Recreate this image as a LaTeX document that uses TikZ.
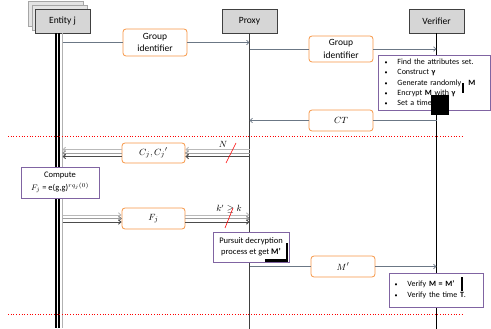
\documentclass[tikz,border=0pt]{standalone}
\usepackage{fontspec}
\setmainfont{Carlito}
\usetikzlibrary{arrows.meta}
\definecolor{msgline}{RGB}{107,119,133}
\definecolor{lblorange}{RGB}{247,150,70}
\definecolor{notepurple}{RGB}{128,100,162}
\definecolor{boxgray}{RGB}{64,64,64}
\definecolor{actorfill}{RGB}{214,214,214}
\definecolor{backfill}{RGB}{228,228,228}
\newcommand{\bul}{{\fontsize{6}{6}\selectfont\textbullet}}
\tikzset{
  actor/.style={draw=boxgray, line width=0.9pt, minimum width=55pt, minimum height=24pt,
    fill=actorfill, font=\fontsize{9.5}{11}\selectfont},
  actorback/.style={draw=gray!70, line width=0.7pt, minimum width=55pt, minimum height=25pt,
    fill=backfill},
  shadowbox/.style={fill=black!35, minimum width=55pt, minimum height=24pt},
  msglabel/.style={draw=lblorange, line width=0.8pt, rounded corners=3pt, fill=white,
    minimum width=64pt, minimum height=21pt, align=center, inner sep=1pt,
    font=\fontsize{9.5}{12.5}\selectfont},
  notebox/.style={draw=notepurple, line width=0.8pt, fill=white, inner sep=2pt,
    font=\fontsize{8}{10.3}\selectfont},
  msg/.style={draw=msgline, line width=0.7pt, -{Straight Barb[length=2.5pt,width=4.5pt]}},
  tripline/.style={-{Straight Barb[length=2.5pt,width=4.5pt]},
    postaction={draw=gray!55, line width=0.9pt, transform canvas={yshift=3.5pt}},
    postaction={draw=gray!75, line width=0.9pt},
    postaction={draw=black!70, line width=0.9pt, transform canvas={yshift=-3.5pt}}},
  sep/.style={red, dotted, line width=0.7pt},
  cut/.style={red, line width=0.6pt},
}
\begin{document}
\begin{tikzpicture}[x=1pt,y=-1pt]
\useasboundingbox (0,0) rectangle (491,329);
% actors
\node[actorback] (entityb) at (55.5,13.5) {};
\node[actorback] (entitym) at (59.5,17.5) {};
\node[shadowbox] (proxyshade) at (250.5,22.5) {};
\node[shadowbox] (verifiershade) at (437.5,22.5) {};
\node[actor] (entity) at (62.5,21) {Entity j};
\node[actor] (proxy) at (249.5,21) {Proxy};
\node[actor] (verifier) at (436.5,21) {Verifier};
\coordinate (entend) at (62.5,328);
\coordinate (prxend) at (249.5,329);
\coordinate (verend) at (436.5,329);
% lifelines
\draw[line width=1.5pt] ([xshift=-6.5pt]entity.south) -- ([xshift=-6.5pt]entend);
\draw[line width=1.5pt] ([xshift=-3.5pt]entity.south) -- ([xshift=-3.5pt]entend);
\draw[gray!60, line width=0.7pt] ([xshift=-0.5pt]entity.south) -- ([xshift=-0.5pt]entend);
\draw[black!75, line width=0.8pt] (proxy) -- (prxend);
\draw[line width=1.3pt] (verifier) -- (verend);
% separators
\draw[sep] (8,136) -- (463,136);
\draw[sep] (8,314) -- (463,314);
% messages
\node[msglabel, minimum height=27pt] (gid1) at (155,42.5) {Group\\identifier};
\draw[msg, -] (entity.south |- gid1) -- (gid1);
\draw[msg] (gid1) -- (proxy.south |- gid1);
\node[msglabel, minimum height=26pt] (gid2) at (341,49) {Group\\identifier};
\draw[msg, -] (proxy.south |- gid2) -- (gid2);
\draw[msg] (gid2) -- (verifier.south |- gid2);
\node[msglabel] (ct) at (341,120.5) {$CT$};
\draw[msg, -] (verifier.south |- ct) -- (ct);
\draw[msg] (ct) -- (proxy.south |- ct);
\node[msglabel, minimum width=63pt, minimum height=20pt] (cj) at (153.5,153) {$C_j, C_j{}'$};
\draw[tripline] (proxy.south |- cj) -- (cj);
\draw[tripline] (cj) -- (entity.south |- cj);
\node[font=\fontsize{9}{10}\selectfont] (nlab) at (223,144) {$N$};
\draw[cut] (236,143) -- (226,163);
\node[msglabel, minimum width=63pt] (fj) at (153.5,218.5) {$F_j$};
\draw[tripline] (entity.south |- fj) -- (fj);
\draw[tripline] (fj) -- (proxy.south |- fj);
\node[font=\fontsize{9}{10}\selectfont] (klab) at (229,209) {$k' \geq k$};
\draw[cut] (233,208) -- (225,228);
\node[msglabel] (mp) at (343,266.5) {$M'$};
\draw[msg, -] (proxy.south |- mp) -- (mp);
\draw[msg] (mp) -- (verifier.south |- mp);
% notes
\node[notebox, minimum height=52pt, text width=99pt, inner xsep=6.5pt, align=left] (setup) at (434,83) {%
  \begin{tabular}{@{}l@{\hspace{10pt}}l@{}}
  \bul & Find the attributes set.\\
  \bul & Construct \textbf{γ}\\
  \bul & Generate randomly\hspace{7pt}\textbf{M}\\
  \bul & Encrypt \textbf{M} with \textbf{γ}\\
  \bul & Set a timer \textbf{T}.
  \end{tabular}};
\node[notebox, minimum width=78pt, minimum height=31pt, align=center, font=\fontsize{8.5}{12.5}\selectfont] (compute) at (60,182.5)
  {Compute\\$F_j$ = e(g,g)$^{rq_j(0)}$};
\node[notebox, minimum width=76pt, minimum height=30pt, align=center, font=\fontsize{8.5}{11.5}\selectfont] (pursuit) at (251,247)
  {Pursuit decryption\\process et get \textbf{M’}};
\node[notebox, minimum height=34pt, text width=83pt, inner xsep=5.5pt, align=left] (verify) at (436,290) {%
  \begin{tabular}{@{}l@{\hspace{10pt}}l@{}}
  \bul & Verify \textbf{M = M’}\\
  \bul & Verify the time \textbf{T}.
  \end{tabular}};
% black marks
\fill (431,95) rectangle (449,115);
\fill (462,83) rectangle (464,93);
\fill (265,259) rectangle (288,262);
\fill (286,243) rectangle (288,262);
\fill (461,277) rectangle (463,291);
\end{tikzpicture}
\end{document}
